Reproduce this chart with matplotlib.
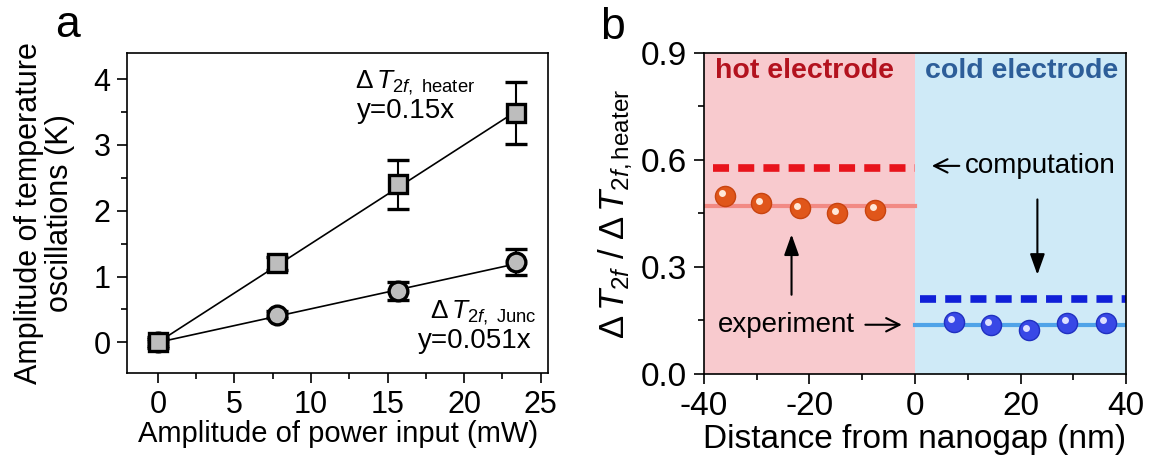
import matplotlib.pyplot as plt
import matplotlib.transforms as mtransforms
import numpy as np

plt.rcParams['font.family'] = ['Liberation Sans', 'DejaVu Sans']
plt.rcParams['mathtext.fontset'] = 'custom'
plt.rcParams['mathtext.rm'] = 'Liberation Sans'
plt.rcParams['mathtext.it'] = 'Liberation Sans:italic'

# panel a data
power = [0, 7.8, 15.7, 23.4]
heater = [0, 1.2, 2.4, 3.49]
heater_err = [0.08, 0.1, 0.37, 0.47]
junc = [0, 0.42, 0.78, 1.22]
junc_err = [0.05, 0.05, 0.13, 0.2]
slope_heater = 0.15
slope_junc = 0.051

# panel b data
x_hot = [-36.1, -29.1, -21.8, -14.7, -7.5]
y_hot = [0.499, 0.478, 0.464, 0.450, 0.459]
x_cold = [7.3, 14.4, 21.6, 28.9, 36.2]
y_cold = [0.147, 0.138, 0.122, 0.144, 0.144]
hot_mean = 0.470
cold_mean = 0.138
hot_comp = 0.578
cold_comp = 0.210

fig = plt.figure(figsize=(11.51, 4.66), dpi=100)

# ---- panel a
ax = fig.add_axes([0.1106, 0.1989, 0.3658, 0.688])
xf = np.array([0, power[-1]])
ax.plot(xf, slope_heater * xf, '-', color='black', lw=1.2, zorder=2)
ax.plot(xf, slope_junc * xf, '-', color='black', lw=1.2, zorder=2)
ax.errorbar(power, junc, yerr=junc_err, fmt='o', ms=13.5, mfc='#bdbdbd', mec='black',
            mew=2.4, ecolor='black', elinewidth=1.5, capsize=8, capthick=1.5, zorder=3)
ax.errorbar(power, heater, yerr=heater_err, fmt='s', ms=12.5, mfc='#bdbdbd', mec='black',
            mew=2.4, ecolor='black', elinewidth=1.5, capsize=8, capthick=1.5, zorder=4)
ax.set_xlim(-2, 25.5)
ax.set_ylim(-0.47, 4.4)
ax.set_xticks([0, 5, 10, 15, 20, 25])
ax.set_xticks(np.arange(2.5, 25, 5), minor=True)
ax.set_yticks([0, 1, 2, 3, 4])
ax.set_yticks(np.arange(0.5, 4.1, 1), minor=True)
ax.tick_params(which='major', length=7, width=1.2, labelsize=22, pad=5)
ax.tick_params(which='minor', length=4, width=1.2)
for s in ax.spines.values():
    s.set_linewidth(1.2)
ax.set_xlabel('Amplitude of power input (mW)', fontsize=21, labelpad=0)
ax.set_ylabel('Amplitude of temperature\noscillations (K)', fontsize=22, labelpad=13,
              linespacing=1.05)
ax.text(12.9, 3.95, r'$\Delta\,T_{2f,\ \mathrm{heater}}$', fontsize=19, ha='left', va='center')
ax.text(13.0, 3.51, 'y=0.15x', fontsize=20, ha='left', va='center')
ax.text(17.8, 0.45, r'$\Delta\,T_{2f,\ \mathrm{Junc}}$', fontsize=19, ha='left', va='center')
ax.text(24.4, 0.02, 'y=0.051x', fontsize=20, ha='right', va='center')
fig.text(0.059, 0.946, 'a', fontsize=32, ha='center', va='center')

# ---- panel b
bx = fig.add_axes([0.6116, 0.1974, 0.3667, 0.6895])
bx.axvspan(-40, 0, color='#f8cace', lw=0, zorder=0)
bx.axvspan(0, 40, color='#cfeaf7', lw=0, zorder=0)
bx.plot([-40, 0], [hot_mean, hot_mean], '-', color='#f28a84', lw=3, zorder=2)
bx.plot([0, 40], [cold_mean, cold_mean], '-', color='#4fa3e8', lw=3, zorder=2)
bx.plot([-38.3, 0], [hot_comp, hot_comp], '--', color='#e8141c', lw=5.5, dashes=(2.1, 1.2), zorder=2)
bx.plot([1, 40], [cold_comp, cold_comp], '--', color='#1020d8', lw=5.5, dashes=(2.1, 1.2), zorder=2)
bx.plot(x_hot, y_hot, 'o', ms=14.5, mfc='#e0561a', mec='#c84410', mew=1, zorder=3)
bx.plot(x_cold, y_cold, 'o', ms=14.5, mfc='#3848e6', mec='#2030c0', mew=1, zorder=3)
hl = bx.transData + mtransforms.ScaledTranslation(-2 / 72, 2 / 72, fig.dpi_scale_trans)
bx.plot(x_hot, y_hot, 'o', ms=5, mfc='#ffe8d8', mec='none', transform=hl, zorder=4)
bx.plot(x_cold, y_cold, 'o', ms=5, mfc='#dde0ff', mec='none', transform=hl, zorder=4)
bx.set_xlim(-40, 40)
bx.set_ylim(0, 0.9)
bx.set_xticks([-40, -20, 0, 20, 40])
bx.set_xticks([-30, -10, 10, 30], minor=True)
bx.set_xticklabels(['-40', '-20', '0', '20', '40'])
bx.set_yticks([0.0, 0.3, 0.6, 0.9])
bx.set_yticks([0.15, 0.45, 0.75], minor=True)
bx.set_yticklabels(['0.0', '0.3', '0.6', '0.9'])
bx.tick_params(which='major', length=7, width=1.2, labelsize=24, pad=5)
bx.tick_params(which='minor', length=4, width=1.2)
for s in bx.spines.values():
    s.set_linewidth(1.2)
bx.set_xlabel('Distance from nanogap (nm)', fontsize=24, labelpad=2)
bx.set_ylabel(r'$\Delta\,T_{2f}\ /\ \Delta\,T_{2f,\mathrm{heater}}$', fontsize=25, labelpad=4)
bx.text(-37.9, 0.85, 'hot electrode', fontsize=20.5, fontweight='bold', color='#b3121e',
        ha='left', va='center')
bx.text(1.9, 0.85, 'cold electrode', fontsize=20.5, fontweight='bold', color='#2d5e99',
        ha='left', va='center')
harrow = dict(arrowstyle='->,head_width=0.3,head_length=0.6', color='black', lw=1.5,
              mutation_scale=16, shrinkA=0, shrinkB=0)
varrow = dict(arrowstyle='-|>,head_width=0.25,head_length=0.7', color='black', lw=1.5,
              mutation_scale=18, shrinkA=0, shrinkB=0)
bx.annotate('', xy=(3.2, 0.583), xytext=(8.4, 0.583), arrowprops=harrow)
bx.text(9.5, 0.583, 'computation', fontsize=20, ha='left', va='center')
bx.annotate('', xy=(23.2, 0.278), xytext=(23.2, 0.489), arrowprops=varrow)
bx.annotate('', xy=(-23.4, 0.391), xytext=(-23.4, 0.222), arrowprops=varrow)
bx.text(-37.3, 0.138, 'experiment', fontsize=20, ha='left', va='center')
bx.annotate('', xy=(-2.5, 0.138), xytext=(-9.4, 0.138), arrowprops=harrow)
fig.text(0.5325, 0.942, 'b', fontsize=32, ha='center', va='center')

fig.savefig('out.png', dpi=100)
